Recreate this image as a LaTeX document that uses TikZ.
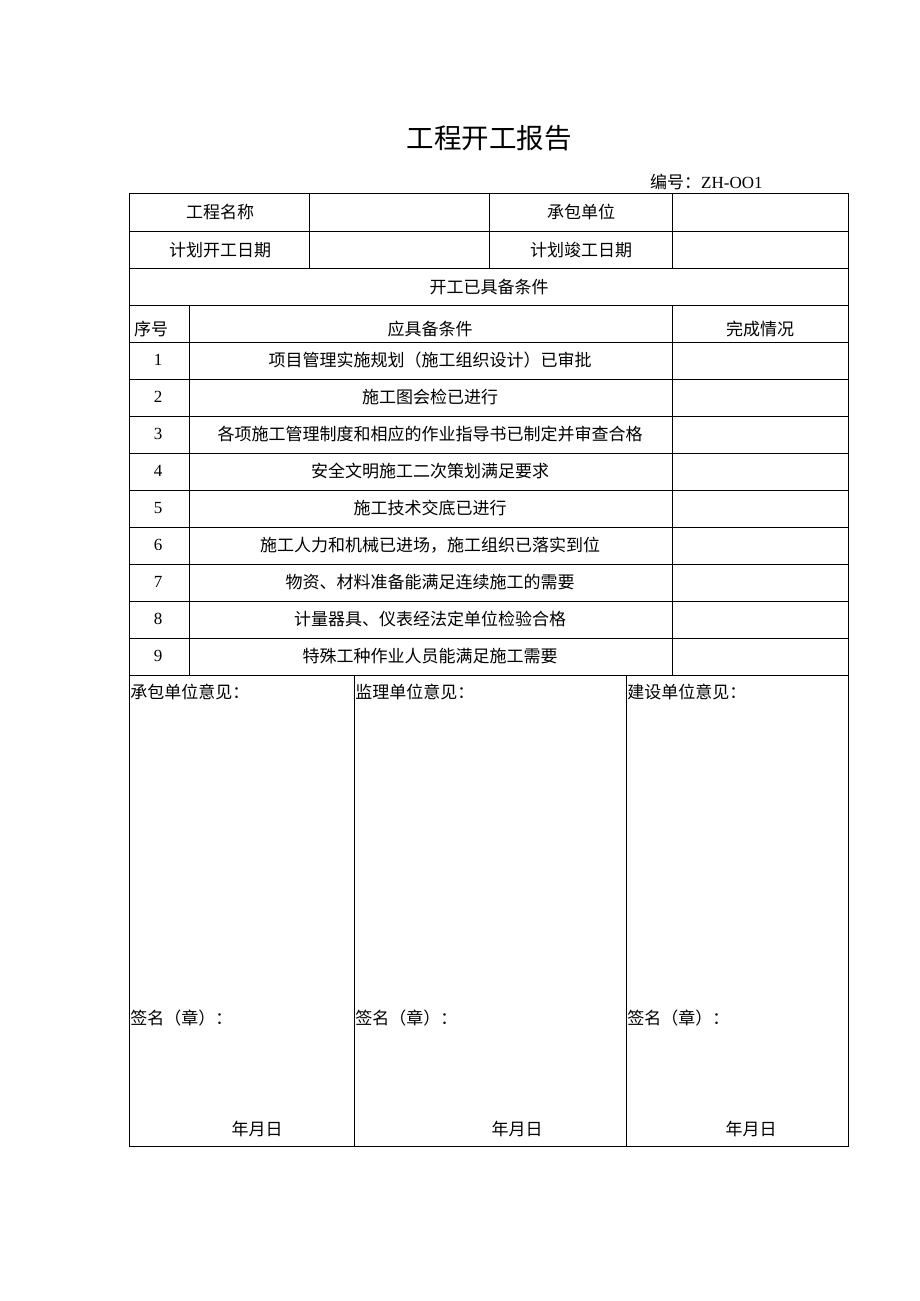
\documentclass[tikz,border=0pt]{standalone}
\usepackage{fontspec}
\setmainfont{Liberation Serif}
\newfontfamily\cjk{Noto Sans CJK SC}
\tikzset{
    cell/.style={font=\cjk\fontsize{17}{19}\selectfont, inner sep=0pt},
    num/.style={font=\fontsize{17}{18}\selectfont, inner sep=0pt},
    corner/.style={cell, anchor=west}
}
\begin{document}
\begin{tikzpicture}[x=1pt,y=-1pt,line width=0.8pt]
        \useasboundingbox (0,0) rectangle (920,1301);
        \node[font=\cjk\fontsize{27.5}{30}\selectfont, inner sep=0pt] (title) at (489,138) {工程开工报告};
        \node[cell, anchor=east] (code) at (763,182) {编号：\rmfamily\fontsize{17}{18}\selectfont ZH-OO1};

        % frame and rules
        \draw (129,193) rectangle (848,1146);
        \foreach \y in {231,268,...,675}{
            \draw (129,\y) -- (848,\y);
        }
        \foreach \x in {309,489,672}{
            \draw (\x,193) -- (\x,268);
        }
        \draw (189,305) -- (189,675);
        \draw (672,305) -- (672,675);
        \draw (354,675) -- (354,1146);
        \draw (626,675) -- (626,1146);

        % head of the form
        \node[cell] (name) at (220,212) {工程名称};
        \node[cell] (contractor) at (581,212) {承包单位};
        \node[cell] (start) at (220,250) {计划开工日期};
        \node[cell] (finish) at (581,250) {计划竣工日期};
        \node[cell] (cond) at (489,287) {开工已具备条件};
        \node[cell] (serial) at (151,329) {序号};
        \node[cell] (req) at (430,329) {应具备条件};
        \node[cell] (done) at (760,329) {完成情况};

        \foreach \i/\txt in {1/项目管理实施规划（施工组织设计）已审批,
                             2/施工图会检已进行,
                             3/各项施工管理制度和相应的作业指导书已制定并审查合格,
                             4/安全文明施工二次策划满足要求,
                             5/施工技术交底已进行,
                             6/施工人力和机械已进场，施工组织已落实到位,
                             7/物资、材料准备能满足连续施工的需要,
                             8/计量器具、仪表经法定单位检验合格,
                             9/特殊工种作业人员能满足施工需要}{
            \node[num] (n\i) at (158,323+37*\i) {\i};
            \node[cell] (c\i) at (430,323+37*\i) {\txt};
        }

        % opinions
        \node[corner] (opA) at (130,692) {承包单位意见：};
        \node[corner] (opB) at (355,692) {监理单位意见：};
        \node[corner] (opC) at (627,692) {建设单位意见：};
        \node[corner] (sgA) at (130,1018) {签名（章）：};
        \node[corner] (sgB) at (355,1018) {签名（章）：};
        \node[corner] (sgC) at (627,1018) {签名（章）：};
        \node[cell] (dtA) at (257,1129) {年月日};
        \node[cell] (dtB) at (517,1129) {年月日};
        \node[cell] (dtC) at (751,1129) {年月日};
    \end{tikzpicture}
\end{document}
